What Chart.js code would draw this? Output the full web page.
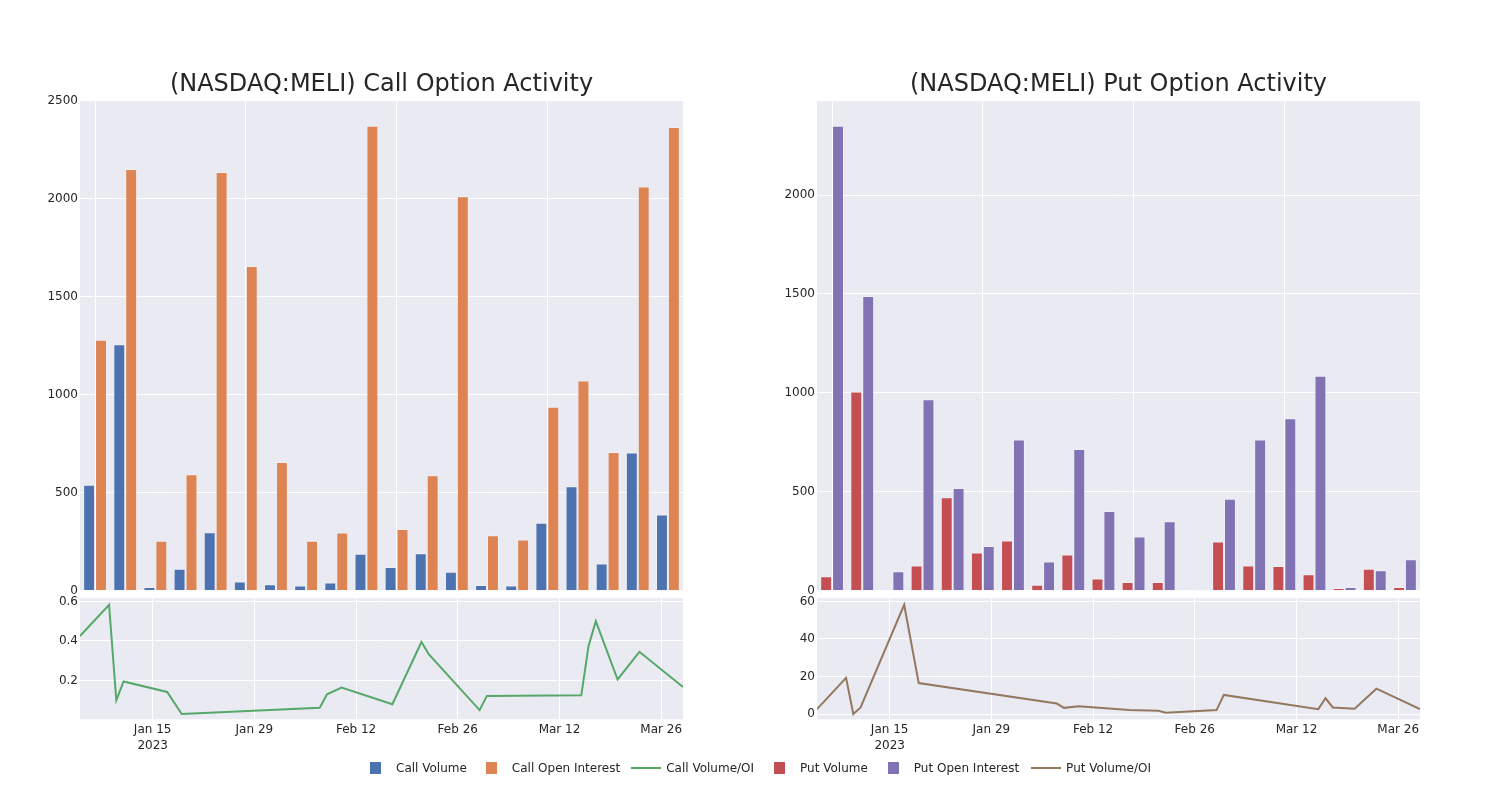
<!DOCTYPE html>
<html>
<head>
<meta charset="utf-8">
<script src="https://cdn.jsdelivr.net/npm/chart.js@4/dist/chart.umd.min.js"></script>
<style>
    body { margin: 0; background: #fff; width: 1500px; height: 800px; position: relative; overflow: hidden; }
    canvas { position: absolute; }
    #legend { position: absolute; left: 370px; top: 761px; height: 14px; white-space: nowrap; display: flex; align-items: center;
              font-family: 'DejaVu Sans', sans-serif; font-size: 12px; color: #262626; }
    #legend span { display: block; }
    .sq { width: 11px; height: 12px; margin-right: 15px; }
    .ln { width: 30px; height: 2px; margin-right: 5px; }
</style>
</head>
<body>
<canvas id="callBars" style="left:0;top:0"></canvas>
<canvas id="callLine" style="left:0;top:589px"></canvas>
<canvas id="putBars" style="left:737px;top:0"></canvas>
<canvas id="putLine" style="left:737px;top:589px"></canvas>
<div id="legend"><span class="sq" style="background:#4C72B0"></span><span>Call Volume</span><span class="sq" style="background:#DD8452;margin-left:19px"></span><span>Call Open Interest</span><span class="ln" style="background:#55A868;margin-left:11px"></span><span>Call Volume/OI</span><span class="sq" style="background:#C44E52;margin-left:20px"></span><span>Put Volume</span><span class="sq" style="background:#8172B3;margin-left:20px"></span><span>Put Open Interest</span><span class="ln" style="background:#937860;margin-left:12px"></span><span>Put Volume/OI</span></div>
<script>
const dates = ['2023-01-05', '2023-01-09', '2023-01-10', '2023-01-11', '2023-01-17',
               '2023-01-19', '2023-02-07', '2023-02-08', '2023-02-10', '2023-02-17',
               '2023-02-21', '2023-02-22', '2023-03-01', '2023-03-02', '2023-03-15',
               '2023-03-16', '2023-03-17', '2023-03-20', '2023-03-23', '2023-03-29'];

const callVolume = [541, 1259, 20, 112, 299, 48, 34, 27, 43, 189, 121, 192, 97, 29, 27, 347, 534, 139, 706, 389];
const callOpenInterest = [1281, 2153, 255, 595, 2138, 1658, 658, 255, 298, 2374, 315, 590, 2014, 284, 262, 940, 1073, 709, 2063, 2367];
const callRatio = [0.425, 0.583, 0.10, 0.195, 0.142, 0.03, 0.062, 0.13, 0.164, 0.08, 0.395, 0.333, 0.05, 0.122, 0.125, 0.375, 0.50, 0.205, 0.345, 0.167];

const putVolume = [74, 1007, 4, 128, 473, 194, 254, 30, 183, 62, 44, 44, 2, 249, 128, 125, 84, 14, 111, 19];
const putOpenInterest = [2350, 1490, 99, 968, 519, 226, 764, 148, 716, 403, 274, 352, 1, 465, 764, 872, 1087, 19, 104, 160];
const putRatio = [2.6, 19.3, 0, 3.5, 58.2, 16.5, 5.6, 3.3, 4.2, 2.1, 1.7, 0.7, 2.1, 10.2, 2.6, 8.4, 3.5, 2.8, 13.5, 2.6];

const callBarTicks = [0, 500, 1000, 1500, 2000, 2500];
const putBarTicks = [0, 500, 1000, 1500, 2000];
const callRatioTicks = [0.2, 0.4, 0.6];
const putRatioTicks = [0, 20, 40, 60];
const tickDates = ['2023-01-15', '2023-01-29', '2023-02-12', '2023-02-26', '2023-03-12', '2023-03-26'];
const tickLabels = [['Jan 15', '2023'], 'Jan 29', 'Feb 12', 'Feb 26', 'Mar 12', 'Mar 26'];

const FONT = { family: "'DejaVu Sans', sans-serif", size: 12 };
const TEXT = '#262626';

// gray plot background like seaborn darkgrid
const plotBg = {
    id: 'plotBg',
    beforeDraw(chart) {
        const { ctx, chartArea: a } = chart;
        ctx.save();
        ctx.fillStyle = '#EAEAF2';
        ctx.fillRect(a.left, a.top, a.right - a.left, a.bottom - a.top);
        ctx.restore();
    }
};

function barChart(id, title, volume, oi, volColor, oiColor, yMax, yTicks) {
    const ctx = document.getElementById(id).getContext('2d');
    ctx.canvas.width = 730;
    ctx.canvas.height = 600;
    return new Chart(ctx, {
        type: 'bar',
        data: {
            labels: dates,
            datasets: [
                { data: volume, backgroundColor: volColor, borderColor: 'rgba(255,255,255,0.25)', borderWidth: 1 },
                { data: oi, backgroundColor: oiColor, borderColor: 'rgba(255,255,255,0.25)', borderWidth: 1 }
            ]
        },
        options: {
            responsive: false,
            animation: false,
            layout: { padding: { top: 0, right: 47, bottom: 6, left: 0 } },
            datasets: { bar: { categoryPercentage: 0.79, barPercentage: 1.0 } },
            scales: {
                x: {
                    offset: true,
                    ticks: { display: false },
                    border: { display: false },
                    grid: {
                        offset: false,
                        drawTicks: false,
                        color: (c) => c.index % 5 === 0 ? '#ffffff' : 'rgba(0,0,0,0)'
                    }
                },
                y: {
                    min: 0,
                    max: yMax,
                    afterBuildTicks: (s) => { s.ticks = yTicks.map(v => ({ value: v })); },
                    afterFit: (s) => { s.width = 80; },
                    border: { display: false },
                    grid: { color: '#ffffff', drawTicks: false },
                    ticks: { callback: (v) => String(v), color: TEXT, font: FONT, padding: 2 }
                }
            },
            plugins: {
                legend: { display: false },
                tooltip: { enabled: false },
                title: {
                    display: true,
                    fullSize: false,
                    text: title,
                    color: TEXT,
                    font: { family: "'DejaVu Sans', sans-serif", size: 24, weight: 'normal' },
                    padding: { top: 70.6, bottom: 1.6 }
                }
            }
        },
        plugins: [plotBg]
    });
}

function ratioChart(id, ratio, color, yMin, yMax, yTicks, fmt) {
    const ctx = document.getElementById(id).getContext('2d');
    ctx.canvas.width = 730;
    ctx.canvas.height = 175;
    return new Chart(ctx, {
        type: 'line',
        data: {
            datasets: [{
                data: dates.map((d, i) => ({ x: Date.parse(d), y: ratio[i] })),
                borderColor: color,
                borderWidth: 2,
                pointRadius: 0,
                tension: 0,
                fill: false
            }]
        },
        options: {
            responsive: false,
            animation: false,
            layout: { padding: { top: 7.7, right: 47, bottom: 0, left: 0 } },
            scales: {
                x: {
                    type: 'linear',
                    min: Date.parse(dates[0]),
                    max: Date.parse(dates[dates.length - 1]),
                    afterBuildTicks: (s) => { s.ticks = tickDates.map(d => ({ value: Date.parse(d) })); },
                    afterFit: (s) => { s.height = 44.7; },
                    border: { display: false },
                    grid: { color: '#ffffff', drawTicks: false },
                    ticks: {
                        callback: (v, i) => tickLabels[i],
                        color: TEXT,
                        font: { family: FONT.family, size: 12, lineHeight: 1.35 },
                        padding: 2,
                        maxRotation: 0,
                        autoSkip: false
                    }
                },
                y: {
                    min: yMin,
                    max: yMax,
                    afterBuildTicks: (s) => { s.ticks = yTicks.map(v => ({ value: v })); },
                    afterFit: (s) => { s.width = 80; },
                    border: { display: false },
                    grid: { color: '#ffffff', drawTicks: false },
                    ticks: { callback: fmt, color: TEXT, font: FONT, padding: 2 }
                }
            },
            plugins: {
                legend: { display: false },
                tooltip: { enabled: false }
            }
        },
        plugins: [plotBg]
    });
}

barChart('callBars', '(NASDAQ:MELI) Call Option Activity', callVolume, callOpenInterest, '#4C72B0', '#DD8452', 2500, callBarTicks);
barChart('putBars', '(NASDAQ:MELI) Put Option Activity', putVolume, putOpenInterest, '#C44E52', '#8172B3', 2475, putBarTicks);
ratioChart('callLine', callRatio, '#55A868', 0.0035, 0.6165, callRatioTicks, (v) => v.toFixed(1));
ratioChart('putLine', putRatio, '#937860', -2.8, 61.7, putRatioTicks, (v) => String(v));
</script>
</body>
</html>
